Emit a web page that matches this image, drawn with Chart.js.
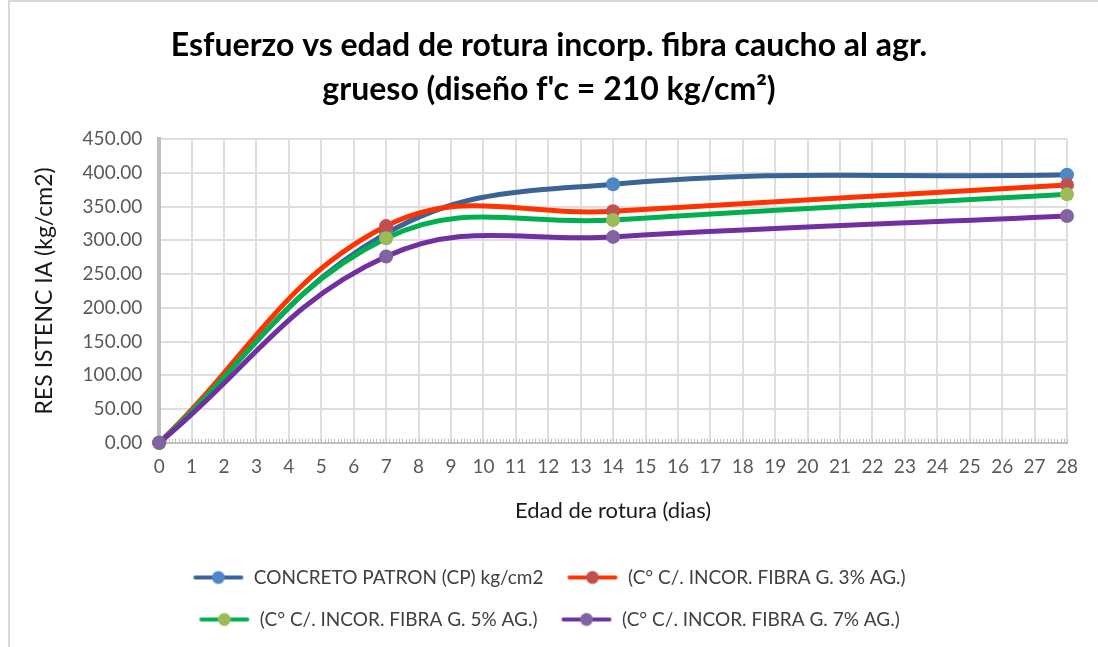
<!DOCTYPE html>
<html>
<head>
<meta charset="utf-8">
<script src="https://cdn.jsdelivr.net/npm/chart.js@4/dist/chart.umd.min.js"></script>
<style>
  html, body { margin: 0; padding: 0; background: #fff; }
  #wrap { width: 1098px; height: 647px; position: relative; overflow: hidden; }
  #marco { position: absolute; left: 8px; top: 0; width: 1200px; height: 800px;
           border-left: 2px solid #d9d9d9; border-top: 2px solid #d9d9d9; }
  #chart { position: absolute; left: 0; top: 0; }
</style>
</head>
<body>
<div id="wrap"><div id="marco"></div><canvas id="chart" width="1098" height="647"></canvas></div>
<script>
// ages (days) where samples were broken
const edades = [0, 7, 14, 28];

// resistance values per series (kg/cm2)
const patron = [0, 310, 383, 397];
const fibra3 = [0, 321, 343, 382];
const fibra5 = [0, 303, 330, 368];
const fibra7 = [0, 276, 305, 336];

const nombres = [
  'CONCRETO PATRON (CP) kg/cm2',
  '(C° C/. INCOR. FIBRA G. 3% AG.)',
  '(C° C/. INCOR. FIBRA G. 5% AG.)',
  '(C° C/. INCOR. FIBRA G. 7% AG.)'
];

const tituloLineas = [
  'Esfuerzo vs edad de rotura incorp. fibra caucho al agr.',
  "grueso (diseño f'c = 210 kg/cm²)"
];

const colLinea = ['#3b6496', '#ff3300', '#00b050', '#7030a0'];
const colPunto = ['#4f86c6', '#c0504d', '#9bbb59', '#8064a2'];

const FONT = 'Lato, "Open Sans", sans-serif';

// little line + dot picture for the legend
function marcador(linea, punto) {
  const c = document.createElement('canvas');
  c.width = 52; c.height = 16;
  const g = c.getContext('2d');
  g.strokeStyle = linea;
  g.lineWidth = 4;
  g.lineCap = 'round';
  g.beginPath();
  g.moveTo(3, 8); g.lineTo(49, 8);
  g.stroke();
  g.fillStyle = punto;
  g.beginPath();
  g.arc(26, 8, 6.5, 0, Math.PI * 2);
  g.fill();
  return c;
}

function serie(i, valores) {
  return {
    label: nombres[i],
    data: edades.map((x, k) => ({x: x, y: valores[k]})),
    borderColor: colLinea[i],
    backgroundColor: colPunto[i],
    pointBackgroundColor: colPunto[i],
    pointBorderColor: colPunto[i],
    pointStyle: 'circle',
    pointRadius: 7,
    pointBorderWidth: 0,
    borderWidth: 5,
    tension: 0.4,
    clip: false,
    order: 4 - i
  };
}

// Excel-like minor ticks on the x axis
const minorTicks = {
  id: 'minorTicks',
  beforeDatasetsDraw(chart) {
    const x = chart.scales.x;
    const g = chart.ctx;
    const y0 = chart.chartArea.bottom;
    g.save();
    g.strokeStyle = '#bfbfbf';
    g.lineWidth = 1;
    for (let v = 0; v <= 280; v++) {
      const px = Math.round(x.getPixelForValue(v / 10)) + 0.5;
      g.beginPath();
      g.moveTo(px, y0);
      g.lineTo(px, y0 - 4);
      g.stroke();
    }
    g.restore();
  }
};

const ctx = document.getElementById('chart');

new Chart(ctx, {
  type: 'line',
  data: {
    datasets: [
      serie(0, patron),
      serie(1, fibra3),
      serie(2, fibra5),
      serie(3, fibra7)
    ]
  },
  options: {
    responsive: false,
    animation: false,
    layout: { padding: { left: 31, right: 31, top: 0, bottom: 8 } },
    plugins: {
      title: {
        display: true,
        text: tituloLineas,
        color: '#000',
        font: { family: FONT, size: 32, weight: 'bold', lineHeight: 1.375 },
        padding: { top: 24, bottom: 27 }
      },
      legend: {
        position: 'bottom',
        labels: {
          usePointStyle: true,
          pointStyleWidth: 52,
          color: '#404040',
          font: { family: FONT, size: 19 },
          padding: 23,
          generateLabels(chart) {
            return chart.data.datasets.map((ds, i) => ({
              text: ds.label,
              pointStyle: marcador(colLinea[i], colPunto[i]),
              fillStyle: colPunto[i],
              strokeStyle: colPunto[i],
              lineWidth: 0,
              fontColor: '#404040',
              datasetIndex: i,
              hidden: false
            }));
          }
        }
      },
      tooltip: { enabled: false }
    },
    scales: {
      x: {
        type: 'linear',
        min: 0,
        max: 28,
        ticks: {
          stepSize: 1,
          color: '#595959',
          font: { family: FONT, size: 19 },
          padding: 13,
          maxRotation: 0
        },
        grid: { color: '#dedede', lineWidth: 2, drawTicks: false },
        border: { color: '#bfbfbf', width: 2 },
        title: {
          display: true,
          text: 'Edad de rotura (dias)',
          color: '#1a1a1a',
          font: { family: FONT, size: 22 },
          padding: { top: 6, bottom: 21 }
        }
      },
      y: {
        min: 0,
        max: 450,
        ticks: {
          stepSize: 50,
          color: '#595959',
          font: { family: FONT, size: 19 },
          padding: 17,
          callback: v => v.toFixed(2)
        },
        grid: { color: '#dedede', lineWidth: 2, drawTicks: false },
        border: { color: '#bfbfbf', width: 4 },
        title: {
          display: true,
          text: 'RES ISTENC IA (kg/cm2)',
          color: '#1a1a1a',
          font: { family: FONT, size: 23 },
          padding: { top: 0, bottom: 7 }
        }
      }
    }
  },
  plugins: [minorTicks]
});
</script>
</body>
</html>
